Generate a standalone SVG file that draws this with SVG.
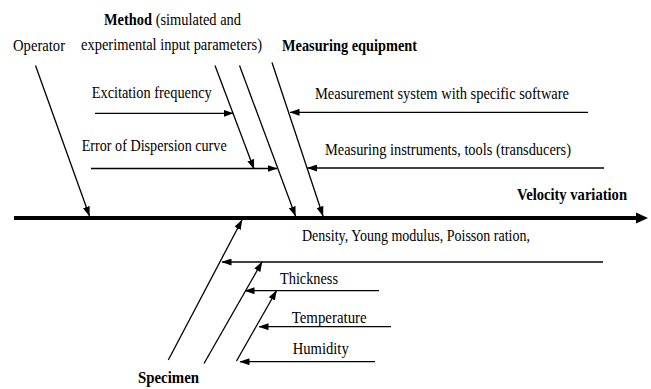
<svg xmlns="http://www.w3.org/2000/svg" width="651" height="389" viewBox="0 0 651 389">
<style>
text{font-family:"Liberation Serif","Times New Roman",Times,serif;font-size:16px;fill:#000}
.b{font-weight:bold}
.c line{stroke:#000;stroke-width:1.3;marker-end:url(#ah)}
</style>
<defs>
<marker id="ah" markerUnits="userSpaceOnUse" markerWidth="10" markerHeight="7" refX="9.5" refY="3.5" orient="auto">
<path d="M0,0 L10,3.5 L0,7 z" fill="#000"/>
</marker>
</defs>
<rect width="651" height="389" fill="#fff"/>
<g id="connectors" class="c">
<line x1="35.5" y1="65.5" x2="89.5" y2="216"/>
<line x1="215" y1="65.5" x2="254" y2="169"/>
<line x1="239.5" y1="65.5" x2="295.5" y2="216"/>
<line x1="272" y1="62.5" x2="323" y2="216"/>
<line x1="95" y1="113.3" x2="233" y2="113.3"/>
<line x1="91" y1="168.5" x2="277" y2="168.5"/>
<line x1="588" y1="112.3" x2="290" y2="112.3"/>
<line x1="604" y1="168" x2="307.5" y2="168"/>
<line x1="603" y1="262" x2="222" y2="262"/>
<line x1="168.3" y1="360" x2="242" y2="220"/>
<line x1="204" y1="363.5" x2="262" y2="262"/>
<line x1="236.5" y1="361" x2="276.5" y2="290.7"/>
<line x1="379" y1="290.7" x2="245" y2="290.7"/>
<line x1="391" y1="326.7" x2="259" y2="326.7"/>
<line x1="375" y1="361.7" x2="240" y2="361.7"/>
</g>
<g id="spine">
<line x1="14" y1="218" x2="638" y2="218" stroke="#000" stroke-width="4"/>
<polygon points="636,212.5 648,218 636,223.5" fill="#000"/>
</g>
<g id="effect"><text class="b" x="517" y="200" textLength="110" lengthAdjust="spacingAndGlyphs">Velocity variation</text></g>
<g id="operator"><text x="13" y="50.5" textLength="52" lengthAdjust="spacingAndGlyphs">Operator</text></g>
<g id="method">
<text x="104" y="24.5" textLength="137" lengthAdjust="spacingAndGlyphs"><tspan class="b">Method</tspan> (simulated and</text>
<text x="81" y="50" textLength="181" lengthAdjust="spacingAndGlyphs">experimental input parameters)</text>
</g>
<g id="measuring-equipment"><text class="b" x="282" y="50.5" textLength="135" lengthAdjust="spacingAndGlyphs">Measuring equipment</text></g>
<g id="excitation"><text x="91.7" y="98" textLength="120" lengthAdjust="spacingAndGlyphs">Excitation frequency</text></g>
<g id="dispersion"><text x="81.7" y="150.5" textLength="145" lengthAdjust="spacingAndGlyphs">Error of Dispersion curve</text></g>
<g id="measurement-system"><text x="315" y="99" textLength="254" lengthAdjust="spacingAndGlyphs">Measurement system with specific software</text></g>
<g id="instruments"><text x="325" y="155" textLength="246" lengthAdjust="spacingAndGlyphs">Measuring instruments, tools (transducers)</text></g>
<g id="density"><text x="302" y="241" textLength="228" lengthAdjust="spacingAndGlyphs">Density, Young modulus, Poisson ration,</text></g>
<g id="thickness"><text x="280" y="284" textLength="58" lengthAdjust="spacingAndGlyphs">Thickness</text></g>
<g id="temperature"><text x="291.7" y="322.5" textLength="75" lengthAdjust="spacingAndGlyphs">Temperature</text></g>
<g id="humidity"><text x="292.7" y="354" textLength="56" lengthAdjust="spacingAndGlyphs">Humidity</text></g>
<g id="specimen"><text class="b" x="138" y="383" textLength="61" lengthAdjust="spacingAndGlyphs">Specimen</text></g>
</svg>
